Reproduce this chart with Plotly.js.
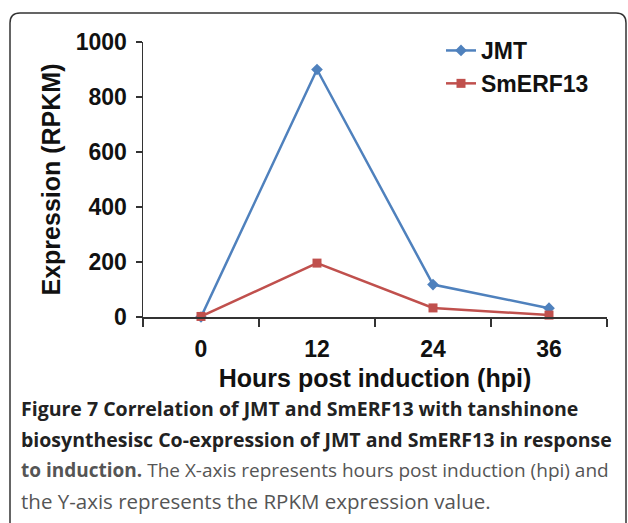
<!DOCTYPE html>
<html>
<head>
<meta charset="utf-8">
<script src="https://cdn.plot.ly/plotly-3.0.1.min.js"></script>
<style>
html,body{margin:0;padding:0;background:#fff;}
#chart{width:628px;height:523px;}
</style>
</head>
<body>
<div id="chart"></div>
<script>
// ---- data ----
var categories = ['0', '12', '24', '36'];
var seriesNames = ['JMT', 'SmERF13'];
var jmtValues = [0, 900, 118, 32];
var smerf13Values = [2, 196, 33, 7];
var yTickValues = [0, 200, 400, 600, 800, 1000];
var xTitle = 'Hours post induction (hpi)';
var yTitle = 'Expression (RPKM)';
var captionLines = [
  '<b>Figure 7 Correlation of JMT and SmERF13 with tanshinone</b>',
  '<b>biosynthesisc Co-expression of JMT and SmERF13 in response</b>',
  '<b>to induction.</b> The X-axis represents hours post induction (hpi) and',
  'the Y-axis represents the RPKM expression value.'
];

// ---- layout helpers (pixel -> paper) ----
var W = 628, H = 523;
var mL = 143, mR = 21, mT = 42, mB = 206;
var pw = W - mL - mR, ph = H - mT - mB;
function PX(px) { return (px - mL) / pw; }
function PY(py) { return (H - mB - py) / ph; }

var axisFont = {family: 'Liberation Sans, Arial, sans-serif', size: 23, color: '#111', weight: 'bold'};
var blue = '#4F81BD', red = '#C0504D';

var traces = [
  {
    x: categories, y: jmtValues, name: seriesNames[0], type: 'scatter', mode: 'lines+markers',
    line: {color: blue, width: 2.5}, marker: {symbol: 'diamond', size: 9, color: blue},
    cliponaxis: false, legendgroup: 'a'
  },
  {
    x: categories, y: smerf13Values, name: seriesNames[1], type: 'scatter', mode: 'lines+markers',
    line: {color: red, width: 2.5}, marker: {symbol: 'square', size: 9, color: red},
    cliponaxis: false, legendgroup: 'b'
  }
];

var b = {l: 10, r: 626, t: 13, btm: 560, rad: 10};
var borderPath = 'M ' + PX(b.l) + ',' + PY(b.btm) +
  ' L ' + PX(b.l) + ',' + PY(b.t + b.rad) +
  ' Q ' + PX(b.l) + ',' + PY(b.t) + ' ' + PX(b.l + b.rad) + ',' + PY(b.t) +
  ' L ' + PX(b.r - b.rad) + ',' + PY(b.t) +
  ' Q ' + PX(b.r) + ',' + PY(b.t) + ' ' + PX(b.r) + ',' + PY(b.t + b.rad) +
  ' L ' + PX(b.r) + ',' + PY(b.btm);

var captionY = [408, 439, 470, 501];
var captionSize = [19.5, 19.5, 19, 20.5];
var annotations = captionLines.map(function (t, i) {
  return {
    text: t, xref: 'paper', yref: 'paper', x: PX(19), y: PY(captionY[i]),
    xanchor: 'left', yanchor: 'middle', showarrow: false, align: 'left',
    font: {family: 'Open Sans, sans-serif', size: captionSize[i], color: i < 2 ? '#222' : '#555'}
  };
});

var layout = {
  width: W, height: H,
  margin: {l: mL, r: mR, t: mT, b: mB, pad: 0},
  paper_bgcolor: '#fff', plot_bgcolor: '#fff',
  showlegend: true,
  legend: {
    x: PX(441), y: PY(29), xanchor: 'left', yanchor: 'top',
    font: {family: 'Liberation Sans, Arial, sans-serif', size: 23, color: '#111', weight: 'bold'},
    bgcolor: 'rgba(0,0,0,0)', tracegroupgap: 3, traceorder: 'normal'
  },
  xaxis: {
    type: 'category', categoryorder: 'array', categoryarray: categories,
    range: [-0.5, 3.5], tickson: 'boundaries',
    ticks: 'outside', ticklen: 8, tickwidth: 1.5, tickcolor: '#333',
    showline: true, linecolor: '#333', linewidth: 1.5,
    showgrid: false, zeroline: false,
    tickfont: axisFont, ticklabelstandoff: 11,
    title: {text: xTitle, font: {family: 'Liberation Sans, Arial, sans-serif', size: 25, color: '#111', weight: 'bold'}, standoff: 8}
  },
  yaxis: {
    range: [0, 1000], tickvals: yTickValues,
    ticks: 'outside', ticklen: 6, tickwidth: 1.5, tickcolor: '#333',
    showline: true, linecolor: '#333', linewidth: 1.5,
    showgrid: false, zeroline: false,
    tickfont: axisFont, ticklabelstandoff: 4,
    title: {text: yTitle, font: {family: 'Liberation Sans, Arial, sans-serif', size: 25, color: '#111', weight: 'bold'}, standoff: 8}
  },
  shapes: [{
    type: 'path', path: borderPath, xref: 'paper', yref: 'paper',
    line: {color: '#333', width: 1.5}, fillcolor: 'rgba(0,0,0,0)', layer: 'below'
  }],
  annotations: annotations
};

Plotly.newPlot('chart', traces, layout, {displayModeBar: false, staticPlot: true});
</script>
</body>
</html>
